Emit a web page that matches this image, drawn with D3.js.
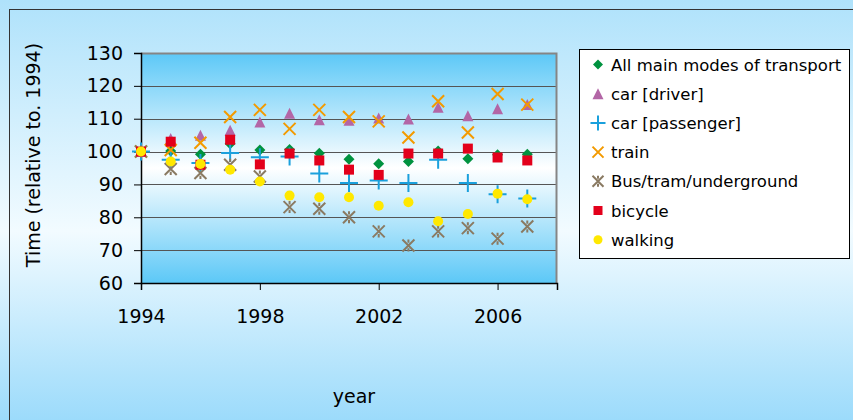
<!DOCTYPE html>
<html>
<head>
<meta charset="utf-8">
<script src="https://cdn.jsdelivr.net/npm/d3@7"></script>
<style>
  html, body { margin: 0; padding: 0; background: #ffffff; }
  svg { display: block; font-family: "DejaVu Sans", sans-serif; }
</style>
</head>
<body>
<svg id="chart" width="853" height="420"></svg>
<script>
// Travel time by main mode of transport, indexed to 1994 = 100
const years = [1994, 1995, 1996, 1997, 1998, 1999, 2000, 2001, 2002, 2003, 2004, 2005, 2006, 2007];
const allModes   = [100, 100.2, 99.2, 102.4, 100.5, 100.6, 99.5, 97.7, 96.3, 97.0, 100.2, 97.8, 99.0, 99.2];
const carDriver  = [100, 104.0, 105.0, 106.5, 109.0, 111.7, 109.7, 109.5, 110.2, 109.9, 113.5, 110.9, 113.0, 114.3];
const carPass    = [100, 97.5, 96.5, 99.6, 98.3, 98.5, 93.3, 90.4, 91.2, 90.4, 97.5, 90.4, 87.0, 85.7];
const train      = [100, 100.5, 102.7, 110.5, 112.7, 106.9, 112.7, 110.5, 109.2, 104.3, 115.3, 105.8, 117.5, 114.3];
const busTram    = [100, 94.7, 93.5, 96.0, 92.4, 83.1, 82.6, 80.0, 75.7, 71.4, 75.7, 76.7, 73.5, 77.2];
const bicycle    = [100, 103.0, 96.0, 103.6, 96.1, 99.4, 97.3, 94.5, 92.9, 99.4, 99.4, 100.9, 98.2, 97.3];
const walking    = [100, 97.0, 96.2, 94.5, 90.9, 86.6, 86.1, 86.1, 83.5, 84.6, 78.8, 81.0, 87.2, 85.5];

const seriesNames = ["All main modes of transport", "car [driver]", "car [passenger]", "train",
                     "Bus/tram/underground", "bicycle", "walking"];
const xTicks = [1994, 1998, 2002, 2006];
const yTicks = [60, 70, 80, 90, 100, 110, 120, 130];
const xTitle = "year";
const yTitle = "Time (relative to. 1994)";

const series = [
  { name: seriesNames[0], values: allModes,  shape: "diamond",  color: "#00923f" },
  { name: seriesNames[1], values: carDriver, shape: "triangle", color: "#b366a6" },
  { name: seriesNames[2], values: carPass,   shape: "plus",     color: "#1aa0dc" },
  { name: seriesNames[3], values: train,     shape: "cross",    color: "#f39a00" },
  { name: seriesNames[4], values: busTram,   shape: "asterisk", color: "#8a7a62" },
  { name: seriesNames[5], values: bicycle,   shape: "square",   color: "#e3001b" },
  { name: seriesNames[6], values: walking,   shape: "circle",   color: "#ffe800" }
];

const svg = d3.select("#chart");
const W = 853, H = 420;
const plot = { left: 141, right: 557, top: 53, bottom: 283 };

const defs = svg.append("defs");
const bg = defs.append("linearGradient").attr("id", "bgGrad")
  .attr("x1", 0).attr("y1", 0).attr("x2", 0).attr("y2", 1);
bg.append("stop").attr("offset", "0").attr("stop-color", "#afe2fb");
bg.append("stop").attr("offset", "0.55").attr("stop-color", "#f2fbff");
bg.append("stop").attr("offset", "1").attr("stop-color", "#9cdbfb");

const pg = defs.append("linearGradient").attr("id", "plotGrad")
  .attr("x1", 0).attr("y1", 0).attr("x2", 0).attr("y2", 1);
pg.append("stop").attr("offset", "0").attr("stop-color", "#5cc8f7");
pg.append("stop").attr("offset", "0.5").attr("stop-color", "#ffffff");
pg.append("stop").attr("offset", "1").attr("stop-color", "#5cc8f7");

// chart background and frame
svg.append("rect").attr("x", 0).attr("y", 0).attr("width", W).attr("height", H)
  .attr("fill", "url(#bgGrad)");
svg.append("rect").attr("x", 9.5).attr("y", 9.5).attr("width", 900).attr("height", 500)
  .attr("fill", "none").attr("stroke", "#333").attr("stroke-width", 1);

const x = d3.scaleLinear().domain([1994, 2008]).range([plot.left, plot.right]);
const y = d3.scaleLinear().domain([60, 130]).range([plot.bottom, plot.top]);

// plot area
svg.append("rect").attr("x", plot.left).attr("y", plot.top)
  .attr("width", plot.right - plot.left).attr("height", plot.bottom - plot.top)
  .attr("fill", "url(#plotGrad)");

// horizontal gridlines
svg.append("g").selectAll("line").data(yTicks.filter(v => v > 60 && v < 130)).join("line")
  .attr("x1", plot.left).attr("x2", plot.right)
  .attr("y1", d => Math.round(y(d)) + 0.5).attr("y2", d => Math.round(y(d)) + 0.5)
  .attr("stroke", "#555").attr("stroke-width", 1.2);

// plot border (top / right)
svg.append("path")
  .attr("d", `M${plot.left},${plot.top + 0.5}H${plot.right - 0.5}V${plot.bottom}`)
  .attr("fill", "none").attr("stroke", "#858585").attr("stroke-width", 2);

// axes
const yAxis = d3.axisLeft(y).tickValues(yTicks).tickSize(7).tickPadding(11);
const gy = svg.append("g").attr("transform", `translate(${plot.left},0)`).call(yAxis);
gy.select(".domain").attr("stroke", "#000").attr("stroke-width", 1.5);
gy.selectAll(".tick line").attr("stroke", "#000");
gy.selectAll(".tick text").attr("font-size", 19).attr("fill", "#000")
  .attr("font-family", "DejaVu Sans, sans-serif");

const xAxis = d3.axisBottom(x).tickValues(xTicks).tickFormat(d3.format("d")).tickSize(7).tickPadding(20);
const gx = svg.append("g").attr("transform", `translate(0,${plot.bottom})`).call(xAxis);
gx.select(".domain").attr("stroke", "#000").attr("stroke-width", 1.5);
gx.selectAll(".tick line").attr("stroke", "#000");
gx.selectAll(".tick text").attr("font-size", 19).attr("fill", "#000")
  .attr("font-family", "DejaVu Sans, sans-serif");

// axis titles
svg.append("text").attr("x", 354).attr("y", 403).attr("text-anchor", "middle")
  .attr("font-size", 19).attr("fill", "#000").text(xTitle);
svg.append("text").attr("transform", "translate(40,155) rotate(-90)")
  .attr("text-anchor", "middle").attr("font-size", 19).attr("fill", "#000").text(yTitle);

// marker drawing
function drawMarker(g, shape, color, s) {
  const h = s / 2;
  switch (shape) {
    case "diamond":
      g.append("path").attr("d", `M0,${-h}L${h},0L0,${h}L${-h},0Z`).attr("fill", color);
      break;
    case "triangle":
      g.append("path").attr("d", `M0,${-h}L${h},${h}L${-h},${h}Z`).attr("fill", color);
      break;
    case "square":
      g.append("rect").attr("x", -h).attr("y", -h).attr("width", s).attr("height", s).attr("fill", color);
      break;
    case "circle":
      g.append("circle").attr("r", h).attr("fill", color);
      break;
    case "plus":
      g.append("path").attr("d", `M${-h},0H${h}M0,${-h}V${h}`)
        .attr("stroke", color).attr("stroke-width", 2).attr("fill", "none");
      break;
    case "cross":
      g.append("path").attr("d", `M${-h},${-h}L${h},${h}M${-h},${h}L${h},${-h}`)
        .attr("stroke", color).attr("stroke-width", 2).attr("fill", "none");
      break;
    case "asterisk":
      g.append("path").attr("d", `M${-h},${-h}L${h},${h}M${-h},${h}L${h},${-h}M0,${-h}V${-h * 0.45}M0,${h}V${h * 0.45}`)
        .attr("stroke", color).attr("stroke-width", 2).attr("fill", "none");
      break;
  }
}
const plotSize = { diamond: 11, triangle: 11, square: 10, circle: 10, plus: 18, cross: 12, asterisk: 12 };
const legendSize = { diamond: 10, triangle: 11, square: 9, circle: 9, plus: 15, cross: 11, asterisk: 11 };

// data points
const pts = svg.append("g");
series.forEach(s => {
  s.values.forEach((v, i) => {
    const g = pts.append("g").attr("transform", `translate(${x(years[i])},${y(v)})`);
    drawMarker(g, s.shape, s.color, plotSize[s.shape]);
  });
});

// legend
const lg = svg.append("g");
lg.append("rect").attr("x", 579.5).attr("y", 49.5).attr("width", 270).attr("height", 209)
  .attr("fill", "#fff").attr("stroke", "#000").attr("stroke-width", 1);
series.forEach((s, i) => {
  const cy = 64.5 + i * 29.2;
  const g = lg.append("g").attr("transform", `translate(598,${cy})`);
  drawMarker(g, s.shape, s.color, legendSize[s.shape]);
  lg.append("text").attr("x", 611).attr("y", cy + 6).attr("font-size", 16.5)
    .attr("fill", "#000").text(s.name);
});
</script>
</body>
</html>
